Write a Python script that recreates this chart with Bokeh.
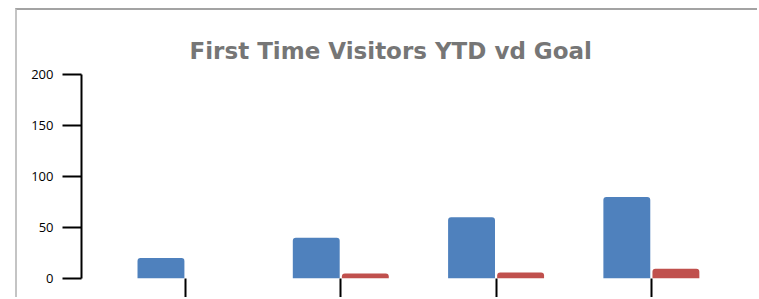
from bokeh.plotting import figure
from bokeh.models import Range1d, FixedTicker, Title, ColumnDataSource
from bokeh.transform import dodge
from bokeh.embed import file_html
from bokeh.resources import INLINE

categories = ["Period 1", "Period 2", "Period 3", "Period 4"]
visitors = [20, 40, 60, 80]
goal = [0, 5, 6, 9.5]
y_ticks = [0, 50, 100, 150, 200]

xs = list(range(len(categories)))
src = ColumnDataSource(dict(x=xs, visitors=visitors, goal=goal))

p = figure(width=742, height=289, output_backend="svg", toolbar_location=None,
           x_range=Range1d(-0.6697, 3.574), y_range=Range1d(0, 200),
           min_border_left=64, min_border_right=19, min_border_top=64,
           min_border_bottom=21)
p.margin = (8, 0, 0, 15)
p.styles = {"border-top": "2px solid #a3a3a3", "border-left": "2px solid #c4c4c4"}
p.outline_line_color = None
p.xgrid.visible = False
p.ygrid.visible = False
p.background_fill_color = "white"
p.border_fill_color = "white"

p.vbar(x=dodge("x", -0.158, range=p.x_range), top="visitors", width=0.302, bottom=0,
       source=src, fill_color="#4F81BD", line_color=None, border_radius=(3, 3, 0, 0))
p.vbar(x=dodge("x", 0.158, range=p.x_range), top="goal", width=0.302, bottom=0,
       source=src, fill_color="#C0504D", line_color=None, border_radius=(3, 3, 0, 0))

ya = p.yaxis[0]
ya.ticker = FixedTicker(ticks=y_ticks)
ya.major_tick_out = 19
ya.major_tick_in = 0
ya.minor_tick_line_color = None
ya.axis_line_width = 2
ya.major_tick_line_width = 2
ya.axis_line_color = "black"
ya.major_tick_line_color = "black"
ya.major_label_standoff = 9
ya.major_label_text_font = "Open Sans"
ya.major_label_text_font_size = "13px"
ya.major_label_text_color = "black"

xa = p.xaxis[0]
xa.ticker = FixedTicker(ticks=xs)
xa.axis_line_color = None
xa.major_tick_out = 19
xa.major_tick_in = 0
xa.major_tick_line_width = 2
xa.major_tick_line_color = "black"
xa.minor_tick_line_color = None
xa.major_label_text_font_size = "0px"
xa.major_label_standoff = 0
xa.major_label_overrides = {i: "" for i in xs}

p.title = Title(text="First Time Visitors YTD vd Goal", align="left", offset=108,
                text_font="DejaVu Sans", text_font_size="23px", text_font_style="bold",
                text_color="#767676", standoff=22)

open("out.html", "w").write(file_html(p, INLINE))
